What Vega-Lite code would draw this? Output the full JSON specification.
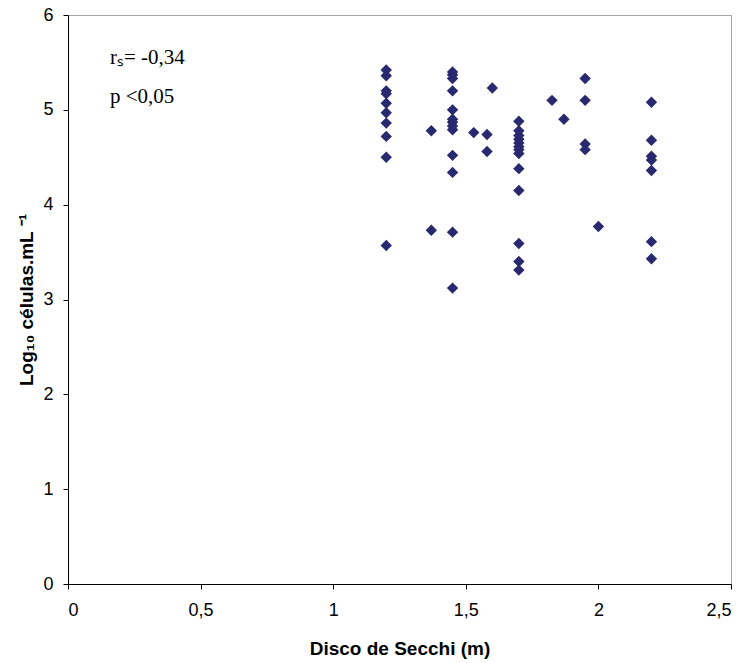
{
  "$schema": "https://vega.github.io/schema/vega-lite/v6.json",
  "width": 663,
  "height": 569,
  "autosize": {"type": "none"},
  "padding": {"left": 68, "top": 15, "right": 18, "bottom": 79},
  "background": "white",
  "config": {
    "view": {"stroke": "#A6A6A6", "strokeWidth": 1},
    "axis": {
      "grid": false,
      "domainColor": "#000000",
      "tickColor": "#000000",
      "tickSize": 5,
      "labelFont": "Liberation Sans",
      "labelFontSize": 18,
      "labelColor": "#000000",
      "titleFont": "Liberation Sans",
      "titleFontSize": 19,
      "titleFontWeight": "bold",
      "titleColor": "#000000"
    }
  },
  "layer": [
    {
      "data": {
        "values": [
          {"secchi": 1.2, "log": 5.42}, {"secchi": 1.2, "log": 5.36}, {"secchi": 1.2, "log": 5.2},
          {"secchi": 1.2, "log": 5.17}, {"secchi": 1.2, "log": 5.07}, {"secchi": 1.2, "log": 4.97},
          {"secchi": 1.2, "log": 4.86}, {"secchi": 1.2, "log": 4.72}, {"secchi": 1.2, "log": 4.5},
          {"secchi": 1.2, "log": 3.57},
          {"secchi": 1.37, "log": 4.78}, {"secchi": 1.37, "log": 3.73},
          {"secchi": 1.45, "log": 5.4}, {"secchi": 1.45, "log": 5.37}, {"secchi": 1.45, "log": 5.33},
          {"secchi": 1.45, "log": 5.2}, {"secchi": 1.45, "log": 5.0}, {"secchi": 1.45, "log": 4.9},
          {"secchi": 1.45, "log": 4.87}, {"secchi": 1.45, "log": 4.83}, {"secchi": 1.45, "log": 4.79},
          {"secchi": 1.45, "log": 4.52}, {"secchi": 1.45, "log": 4.34}, {"secchi": 1.45, "log": 3.71},
          {"secchi": 1.45, "log": 3.12},
          {"secchi": 1.53, "log": 4.76},
          {"secchi": 1.58, "log": 4.74}, {"secchi": 1.58, "log": 4.56},
          {"secchi": 1.6, "log": 5.23},
          {"secchi": 1.7, "log": 4.88}, {"secchi": 1.7, "log": 4.78}, {"secchi": 1.7, "log": 4.73},
          {"secchi": 1.7, "log": 4.69}, {"secchi": 1.7, "log": 4.65}, {"secchi": 1.7, "log": 4.61},
          {"secchi": 1.7, "log": 4.58}, {"secchi": 1.7, "log": 4.54}, {"secchi": 1.7, "log": 4.38},
          {"secchi": 1.7, "log": 4.15}, {"secchi": 1.7, "log": 3.59}, {"secchi": 1.7, "log": 3.4},
          {"secchi": 1.7, "log": 3.31},
          {"secchi": 1.825, "log": 5.1},
          {"secchi": 1.87, "log": 4.9},
          {"secchi": 1.95, "log": 5.33}, {"secchi": 1.95, "log": 5.1}, {"secchi": 1.95, "log": 4.64},
          {"secchi": 1.95, "log": 4.58},
          {"secchi": 2.0, "log": 3.77},
          {"secchi": 2.2, "log": 5.08}, {"secchi": 2.2, "log": 4.68}, {"secchi": 2.2, "log": 4.51},
          {"secchi": 2.2, "log": 4.47}, {"secchi": 2.2, "log": 4.36}, {"secchi": 2.2, "log": 3.61},
          {"secchi": 2.2, "log": 3.43}
        ]
      },
      "mark": {"type": "point", "shape": "diamond", "filled": true, "size": 130, "color": "#29296F", "opacity": 1},
      "encoding": {
        "x": {
          "field": "secchi", "type": "quantitative",
          "scale": {"domain": [0, 2.5], "nice": false, "zero": false},
          "axis": {
            "values": [0, 0.5, 1, 1.5, 2, 2.5],
            "labelExpr": "replace(toString(datum.value), '.', ',')",
            "labelPadding": 12,
            "title": "Disco de Secchi (m)",
            "titlePadding": 20
          }
        },
        "y": {
          "field": "log", "type": "quantitative",
          "scale": {"domain": [0, 6], "nice": false, "zero": false},
          "axis": {
            "values": [0, 1, 2, 3, 4, 5, 6],
            "labelExpr": "toString(datum.value)",
            "labelPadding": 10,
            "title": "Log₁₀ células.mL ⁻¹",
            "titlePadding": 6
          }
        }
      }
    },
    {
      "data": {
        "values": [
          {"x": 0.158, "y": 5.55, "label": "rₛ= -0,34"},
          {"x": 0.158, "y": 5.14, "label": "p <0,05"}
        ]
      },
      "mark": {"type": "text", "align": "left", "baseline": "middle", "font": "Liberation Serif", "fontSize": 21, "color": "#000000"},
      "encoding": {
        "x": {"field": "x", "type": "quantitative"},
        "y": {"field": "y", "type": "quantitative"},
        "text": {"field": "label"}
      }
    }
  ]
}
